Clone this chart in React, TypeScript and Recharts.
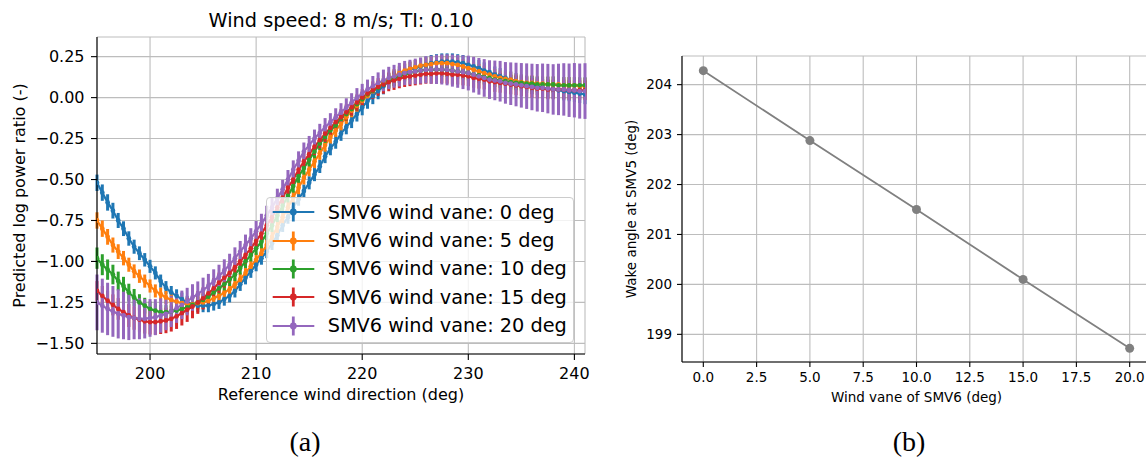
import { LineChart, Line, XAxis, YAxis, CartesianGrid, ErrorBar, Legend } from 'recharts';

// reference wind direction (deg), 0.5 deg steps
const DIRS = [
  195, 195.5, 196, 196.5, 197, 197.5, 198, 198.5, 199, 199.5,
  200, 200.5, 201, 201.5, 202, 202.5, 203, 203.5, 204, 204.5,
  205, 205.5, 206, 206.5, 207, 207.5, 208, 208.5, 209, 209.5,
  210, 210.5, 211, 211.5, 212, 212.5, 213, 213.5, 214, 214.5,
  215, 215.5, 216, 216.5, 217, 217.5, 218, 218.5, 219, 219.5,
  220, 220.5, 221, 221.5, 222, 222.5, 223, 223.5, 224, 224.5,
  225, 225.5, 226, 226.5, 227, 227.5, 228, 228.5, 229, 229.5,
  230, 230.5, 231, 231.5, 232, 232.5, 233, 233.5, 234, 234.5,
  235, 235.5, 236, 236.5, 237, 237.5, 238, 238.5, 239, 239.5,
  240, 240.5, 241,
];

// predicted log power ratio, one array per SMV6 wind vane offset
const VANE_0 = [
  -0.52, -0.58, -0.64, -0.69, -0.75, -0.80, -0.86, -0.91, -0.95, -0.99,
  -1.03, -1.07, -1.12, -1.16, -1.19, -1.21, -1.23, -1.25, -1.26, -1.27,
  -1.27, -1.27, -1.26, -1.25, -1.23, -1.21, -1.18, -1.14, -1.10, -1.06,
  -1.02, -0.98, -0.94, -0.89, -0.84, -0.78, -0.73, -0.67, -0.62, -0.57,
  -0.52, -0.47, -0.42, -0.36, -0.31, -0.27, -0.22, -0.18, -0.14, -0.10,
  -0.06, -0.02, 0.01, 0.04, 0.07, 0.10, 0.12, 0.14, 0.155, 0.17,
  0.18, 0.19, 0.20, 0.21, 0.215, 0.22, 0.22, 0.22, 0.215, 0.21,
  0.20, 0.19, 0.18, 0.165, 0.155, 0.14, 0.13, 0.12, 0.11, 0.10,
  0.09, 0.08, 0.075, 0.07, 0.06, 0.055, 0.05, 0.045, 0.04, 0.035,
  0.03, 0.025, 0.02,
];
const VANE_5 = [
  -0.75, -0.80, -0.85, -0.90, -0.94, -0.98, -1.02, -1.06, -1.09, -1.12,
  -1.15, -1.18, -1.20, -1.22, -1.235, -1.245, -1.255, -1.26, -1.26, -1.255,
  -1.25, -1.24, -1.225, -1.21, -1.19, -1.17, -1.14, -1.11, -1.07, -1.03,
  -0.99, -0.95, -0.90, -0.85, -0.79, -0.73, -0.67, -0.61, -0.55, -0.49,
  -0.44, -0.39, -0.34, -0.29, -0.24, -0.20, -0.16, -0.12, -0.08, -0.05,
  -0.02, 0.01, 0.04, 0.065, 0.09, 0.11, 0.13, 0.15, 0.165, 0.175,
  0.185, 0.195, 0.20, 0.205, 0.21, 0.21, 0.21, 0.205, 0.20, 0.19,
  0.18, 0.17, 0.16, 0.15, 0.14, 0.13, 0.12, 0.115, 0.11, 0.10,
  0.095, 0.09, 0.09, 0.085, 0.085, 0.08, 0.08, 0.08, 0.075, 0.075,
  0.075, 0.07, 0.07,
];
const VANE_10 = [
  -0.98, -1.02, -1.05, -1.08, -1.12, -1.15, -1.19, -1.22, -1.25, -1.27,
  -1.29, -1.30, -1.31, -1.31, -1.305, -1.30, -1.29, -1.28, -1.265, -1.25,
  -1.235, -1.215, -1.19, -1.165, -1.14, -1.11, -1.08, -1.04, -1.00, -0.96,
  -0.92, -0.88, -0.83, -0.78, -0.72, -0.66, -0.60, -0.54, -0.48, -0.43,
  -0.38, -0.33, -0.28, -0.24, -0.20, -0.17, -0.13, -0.10, -0.07, -0.04,
  -0.01, 0.02, 0.04, 0.06, 0.08, 0.10, 0.115, 0.13, 0.14, 0.15,
  0.16, 0.165, 0.17, 0.17, 0.17, 0.17, 0.17, 0.165, 0.16, 0.155,
  0.15, 0.14, 0.135, 0.125, 0.12, 0.11, 0.105, 0.10, 0.095, 0.09,
  0.09, 0.085, 0.085, 0.08, 0.08, 0.08, 0.08, 0.075, 0.075, 0.075,
  0.075, 0.075, 0.075,
];
const VANE_15 = [
  -1.18, -1.21, -1.24, -1.265, -1.29, -1.31, -1.33, -1.345, -1.355, -1.365,
  -1.37, -1.37, -1.365, -1.36, -1.35, -1.335, -1.315, -1.295, -1.275, -1.25,
  -1.225, -1.195, -1.165, -1.13, -1.10, -1.07, -1.035, -1.00, -0.96, -0.92,
  -0.875, -0.83, -0.78, -0.73, -0.67, -0.61, -0.55, -0.50, -0.44, -0.39,
  -0.345, -0.30, -0.26, -0.22, -0.185, -0.15, -0.12, -0.09, -0.06, -0.03,
  0.00, 0.025, 0.045, 0.065, 0.08, 0.095, 0.105, 0.115, 0.125, 0.13,
  0.135, 0.14, 0.145, 0.145, 0.148, 0.148, 0.145, 0.14, 0.14, 0.135,
  0.13, 0.12, 0.115, 0.11, 0.10, 0.095, 0.09, 0.085, 0.08, 0.075,
  0.07, 0.065, 0.06, 0.055, 0.055, 0.05, 0.05, 0.05, 0.05, 0.045,
  0.045, 0.045, 0.045,
];
const VANE_20 = [
  -1.25, -1.27, -1.29, -1.305, -1.32, -1.33, -1.34, -1.345, -1.35, -1.35,
  -1.345, -1.34, -1.33, -1.32, -1.305, -1.285, -1.265, -1.245, -1.22, -1.20,
  -1.175, -1.15, -1.12, -1.09, -1.055, -1.02, -0.98, -0.94, -0.90, -0.86,
  -0.815, -0.77, -0.72, -0.67, -0.615, -0.56, -0.50, -0.44, -0.385, -0.33,
  -0.29, -0.25, -0.215, -0.18, -0.15, -0.12, -0.09, -0.06, -0.03, 0.00,
  0.025, 0.05, 0.07, 0.09, 0.105, 0.12, 0.13, 0.14, 0.15, 0.155,
  0.16, 0.165, 0.17, 0.17, 0.172, 0.172, 0.17, 0.165, 0.16, 0.155,
  0.15, 0.14, 0.13, 0.12, 0.11, 0.105, 0.10, 0.09, 0.085, 0.08,
  0.075, 0.07, 0.065, 0.06, 0.06, 0.055, 0.05, 0.05, 0.05, 0.045,
  0.045, 0.04, 0.04,
];

// half-length of the error bars
const ERR_0 = [
  0.05, 0.05, 0.05, 0.048, 0.046, 0.045, 0.044, 0.043, 0.042, 0.041,
  0.04, 0.04, 0.04, 0.04, 0.04, 0.04, 0.04, 0.04, 0.04, 0.04,
  0.04, 0.04, 0.04, 0.04, 0.04, 0.04, 0.04, 0.04, 0.04, 0.04,
  0.04, 0.04, 0.04, 0.04, 0.04, 0.04, 0.04, 0.04, 0.04, 0.04,
  0.04, 0.04, 0.04, 0.04, 0.042, 0.042, 0.044, 0.044, 0.046, 0.046,
  0.048, 0.048, 0.05, 0.05, 0.05, 0.05, 0.05, 0.05, 0.05, 0.05,
  0.05, 0.05, 0.05, 0.05, 0.05, 0.05, 0.05, 0.05, 0.05, 0.05,
  0.05, 0.05, 0.05, 0.05, 0.05, 0.05, 0.05, 0.05, 0.05, 0.05,
  0.052, 0.052, 0.054, 0.054, 0.055, 0.055, 0.056, 0.056, 0.057, 0.057,
  0.058, 0.058, 0.06,
];
const ERR_5 = [
  0.05, 0.05, 0.048, 0.046, 0.045, 0.044, 0.043, 0.042, 0.041, 0.04,
  0.04, 0.04, 0.04, 0.04, 0.04, 0.04, 0.04, 0.04, 0.04, 0.04,
  0.04, 0.04, 0.04, 0.04, 0.04, 0.04, 0.04, 0.04, 0.04, 0.04,
  0.04, 0.04, 0.04, 0.04, 0.04, 0.04, 0.04, 0.04, 0.04, 0.04,
  0.04, 0.04, 0.04, 0.04, 0.04, 0.04, 0.04, 0.04, 0.04, 0.04,
  0.04, 0.042, 0.042, 0.044, 0.044, 0.045, 0.045, 0.045, 0.045, 0.045,
  0.045, 0.045, 0.045, 0.045, 0.045, 0.045, 0.045, 0.045, 0.045, 0.045,
  0.045, 0.045, 0.045, 0.045, 0.045, 0.045, 0.045, 0.045, 0.045, 0.045,
  0.046, 0.046, 0.047, 0.047, 0.048, 0.048, 0.049, 0.049, 0.05, 0.05,
  0.05, 0.05, 0.05,
];
const ERR_10 = [
  0.065, 0.064, 0.062, 0.06, 0.058, 0.056, 0.054, 0.052, 0.05, 0.048,
  0.046, 0.045, 0.044, 0.043, 0.042, 0.041, 0.04, 0.04, 0.04, 0.04,
  0.04, 0.04, 0.04, 0.04, 0.04, 0.04, 0.04, 0.04, 0.04, 0.04,
  0.04, 0.04, 0.04, 0.04, 0.04, 0.04, 0.04, 0.04, 0.04, 0.04,
  0.04, 0.04, 0.04, 0.04, 0.04, 0.04, 0.04, 0.04, 0.04, 0.04,
  0.04, 0.04, 0.04, 0.04, 0.04, 0.042, 0.042, 0.042, 0.042, 0.042,
  0.044, 0.044, 0.044, 0.044, 0.044, 0.044, 0.044, 0.044, 0.044, 0.044,
  0.045, 0.045, 0.045, 0.045, 0.045, 0.045, 0.045, 0.045, 0.045, 0.045,
  0.046, 0.046, 0.047, 0.047, 0.048, 0.048, 0.049, 0.049, 0.05, 0.05,
  0.05, 0.05, 0.05,
];
const ERR_15 = [
  0.06, 0.06, 0.062, 0.064, 0.066, 0.068, 0.07, 0.072, 0.074, 0.075,
  0.076, 0.077, 0.078, 0.078, 0.078, 0.077, 0.076, 0.074, 0.072, 0.07,
  0.068, 0.066, 0.064, 0.062, 0.06, 0.058, 0.056, 0.055, 0.054, 0.053,
  0.052, 0.052, 0.051, 0.051, 0.05, 0.05, 0.05, 0.05, 0.05, 0.05,
  0.05, 0.05, 0.05, 0.05, 0.05, 0.05, 0.05, 0.05, 0.05, 0.05,
  0.052, 0.052, 0.054, 0.054, 0.056, 0.056, 0.058, 0.058, 0.06, 0.06,
  0.06, 0.06, 0.06, 0.06, 0.06, 0.06, 0.06, 0.06, 0.06, 0.06,
  0.06, 0.06, 0.06, 0.06, 0.06, 0.06, 0.06, 0.06, 0.06, 0.06,
  0.06, 0.06, 0.06, 0.06, 0.06, 0.06, 0.06, 0.06, 0.06, 0.06,
  0.06, 0.06, 0.06,
];
const ERR_20 = [
  0.17, 0.165, 0.16, 0.155, 0.15, 0.145, 0.14, 0.13, 0.125, 0.12,
  0.115, 0.11, 0.105, 0.10, 0.095, 0.09, 0.087, 0.084, 0.081, 0.078,
  0.076, 0.074, 0.072, 0.07, 0.068, 0.067, 0.066, 0.065, 0.064, 0.063,
  0.062, 0.061, 0.06, 0.06, 0.059, 0.058, 0.058, 0.057, 0.057, 0.056,
  0.056, 0.055, 0.055, 0.055, 0.055, 0.055, 0.056, 0.056, 0.057, 0.058,
  0.059, 0.06, 0.062, 0.064, 0.066, 0.068, 0.07, 0.072, 0.074, 0.076,
  0.078, 0.08, 0.083, 0.086, 0.089, 0.092, 0.095, 0.098, 0.10, 0.103,
  0.106, 0.109, 0.112, 0.115, 0.118, 0.121, 0.124, 0.127, 0.13, 0.133,
  0.136, 0.139, 0.142, 0.145, 0.148, 0.151, 0.154, 0.157, 0.16, 0.163,
  0.166, 0.168, 0.17,
];

const DIR_TICKS = [200, 210, 220, 230, 240];
const RATIO_TICKS = [-1.5, -1.25, -1, -0.75, -0.5, -0.25, 0, 0.25];

// panel (b)
const VANE_ANGLES = [0, 5, 10, 15, 20];
const WAKE_ANGLES = [204.28, 202.88, 201.5, 200.1, 198.72];
const VANE_TICKS = [0, 2.5, 5, 7.5, 10, 12.5, 15, 17.5, 20];
const WAKE_TICKS = [199, 200, 201, 202, 203, 204];

const SERIES = [
  { key: 'v0', err: 'e0', name: 'SMV6 wind vane: 0 deg', color: '#1f77b4', values: VANE_0, errors: ERR_0 },
  { key: 'v5', err: 'e5', name: 'SMV6 wind vane: 5 deg', color: '#ff7f0e', values: VANE_5, errors: ERR_5 },
  { key: 'v10', err: 'e10', name: 'SMV6 wind vane: 10 deg', color: '#2ca02c', values: VANE_10, errors: ERR_10 },
  { key: 'v15', err: 'e15', name: 'SMV6 wind vane: 15 deg', color: '#d62728', values: VANE_15, errors: ERR_15 },
  { key: 'v20', err: 'e20', name: 'SMV6 wind vane: 20 deg', color: '#9467bd', values: VANE_20, errors: ERR_20 },
];

const dirData = DIRS.map((dir, i) => {
  const row: Record<string, number> = { dir };
  SERIES.forEach((s) => {
    row[s.key] = s.values[i];
    row[s.err] = s.errors[i];
  });
  return row;
});

const wakeData = VANE_ANGLES.map((vane, i) => ({ vane, wake: WAKE_ANGLES[i] }));

const FONT = 'DejaVu Sans, sans-serif';
const SPINE = { stroke: '#000', strokeWidth: 1.1 };
const GRID = '#bdbdbd';

const fmtMinus = (v: number, digits: number) => v.toFixed(digits).replace('-', '\u2212');

function yLabel(text: string, dx: number, size: number) {
  return (props: any) => {
    const vb = props.viewBox || {};
    const x = (vb.x ?? 0) + dx;
    const y = (vb.y ?? 0) + (vb.height ?? 0) / 2;
    return (
      <text x={x} y={y} transform={`rotate(-90 ${x} ${y})`} textAnchor="middle" fontSize={size} fontFamily={FONT} fill="#000">
        {text}
      </text>
    );
  };
}

function xLabel(text: string, dy: number, size: number) {
  return (props: any) => {
    const vb = props.viewBox || {};
    return (
      <text x={(vb.x ?? 0) + (vb.width ?? 0) / 2} y={(vb.y ?? 0) + dy} textAnchor="middle" fontSize={size} fontFamily={FONT} fill="#000">
        {text}
      </text>
    );
  };
}

const renderLegend = () => (
  <div
    style={{
      width: 308,
      height: 146,
      boxSizing: 'border-box',
      background: 'rgba(255,255,255,0.8)',
      border: '1px solid #cccccc',
      borderRadius: 4,
      fontFamily: FONT,
    }}
  >
    {SERIES.map((s) => (
      <div key={s.key} style={{ display: 'flex', alignItems: 'center', height: 28.4 }}>
        <svg width={60} height={28} style={{ flex: 'none' }}>
          <line x1={5.7} x2={47.3} y1={14} y2={14} stroke={s.color} strokeWidth={2.2} />
          <line x1={26.3} x2={26.3} y1={4.5} y2={23.5} stroke={s.color} strokeWidth={2.8} />
          <circle cx={26.3} cy={14} r={3.4} fill={s.color} />
        </svg>
        <span style={{ fontSize: 19.3, color: '#000', marginLeft: 0.7, whiteSpace: 'nowrap', lineHeight: 1 }}>{s.name}</span>
      </div>
    ))}
  </div>
);

function PowerRatioChart() {
  return (
    <LineChart width={600} height={420} data={dirData} margin={{ top: 37, right: 15, bottom: 16, left: 0 }} style={{ fontFamily: FONT }}>
      <CartesianGrid stroke={GRID} strokeWidth={1.1} />
      <XAxis
        type="number"
        dataKey="dir"
        domain={[195, 241]}
        allowDataOverflow
        ticks={DIR_TICKS}
        height={50}
        tick={{ fontSize: 16, fill: '#000' }}
        tickSize={6}
        tickMargin={8}
        tickLine={SPINE}
        axisLine={SPINE}
        label={{ content: xLabel('Reference wind direction (deg)', 45.7, 16) }}
      />
      <YAxis
        type="number"
        domain={[-1.565, 0.37]}
        allowDataOverflow
        ticks={RATIO_TICKS}
        width={97}
        tick={{ fontSize: 16, fill: '#000' }}
        tickFormatter={(v: number) => fmtMinus(v, 2)}
        tickSize={6}
        tickMargin={6.5}
        tickLine={SPINE}
        axisLine={SPINE}
        label={{ content: yLabel('Predicted log power ratio (-)', 25, 16) }}
      />
      <XAxis xAxisId="top" orientation="top" type="number" dataKey="dir" domain={[195, 241]} allowDataOverflow height={0} tick={false} tickLine={false} axisLine={SPINE} />
      <YAxis yAxisId="right" orientation="right" type="number" domain={[-1.565, 0.37]} allowDataOverflow width={0} tick={false} tickLine={false} axisLine={SPINE} />
      {SERIES.map((s) => (
        <Line
          key={s.key}
          dataKey={s.key}
          name={s.name}
          stroke={s.color}
          strokeWidth={2.2}
          dot={{ r: 2.4, fill: s.color, stroke: 'none' }}
          activeDot={false}
          isAnimationActive={false}
        >
          <ErrorBar dataKey={s.err} direction="y" width={0} stroke={s.color} strokeWidth={3} isAnimationActive={false} />
        </Line>
      ))}
      <Legend
        content={renderLegend}
        layout="vertical"
        align="center"
        verticalAlign="middle"
        wrapperStyle={{ left: 266, top: 197, width: 308, height: 146 }}
      />
    </LineChart>
  );
}

function WakeAngleChart() {
  return (
    <LineChart width={600} height={420} data={wakeData} margin={{ top: 56, right: 9, bottom: 8, left: 0 }} style={{ fontFamily: FONT }}>
      <CartesianGrid stroke={GRID} strokeWidth={1.1} />
      <XAxis
        type="number"
        dataKey="vane"
        domain={[-1, 21]}
        allowDataOverflow
        ticks={VANE_TICKS}
        tickFormatter={(v: number) => v.toFixed(1)}
        height={50}
        tick={{ fontSize: 13.5, fill: '#000' }}
        tickSize={5}
        tickMargin={5.5}
        tickLine={SPINE}
        axisLine={SPINE}
        label={{ content: xLabel('Wind vane of SMV6 (deg)', 39.5, 13.5) }}
      />
      <YAxis
        type="number"
        domain={[198.446, 204.574]}
        allowDataOverflow
        ticks={WAKE_TICKS}
        width={122}
        tick={{ fontSize: 13.5, fill: '#000' }}
        tickSize={5}
        tickMargin={5}
        tickLine={SPINE}
        axisLine={SPINE}
        label={{ content: yLabel('Wake angle at SMV5 (deg)', 75.5, 13.5) }}
      />
      <XAxis xAxisId="top" orientation="top" type="number" dataKey="vane" domain={[-1, 21]} allowDataOverflow height={0} tick={false} tickLine={false} axisLine={SPINE} />
      <Line
        dataKey="wake"
        stroke="#808080"
        strokeWidth={1.8}
        dot={{ r: 4.5, fill: '#808080', stroke: 'none' }}
        activeDot={false}
        isAnimationActive={false}
      />
    </LineChart>
  );
}

export default function App() {
  return (
    <div style={{ position: 'absolute', left: 0, top: 0, width: 1146, height: 460, overflow: 'hidden', background: '#fff' }}>
      <div style={{ position: 'absolute', left: 0, top: 0 }}>
        <PowerRatioChart />
      </div>
      <div style={{ position: 'absolute', left: 560, top: 0 }}>
        <WakeAngleChart />
      </div>
      <svg width={1146} height={460} style={{ position: 'absolute', left: 0, top: 0, pointerEvents: 'none' }}>
        <text x={341} y={26.7} textAnchor="middle" fontSize={19.3} fontFamily={FONT} fill="#000">
          Wind speed: 8 m/s; TI: 0.10
        </text>
        <text x={305} y={450.5} textAnchor="middle" fontSize={28} fontFamily="Liberation Serif, serif" fill="#000">
          (a)
        </text>
        <text x={909} y={450.5} textAnchor="middle" fontSize={28} fontFamily="Liberation Serif, serif" fill="#000">
          (b)
        </text>
      </svg>
    </div>
  );
}
